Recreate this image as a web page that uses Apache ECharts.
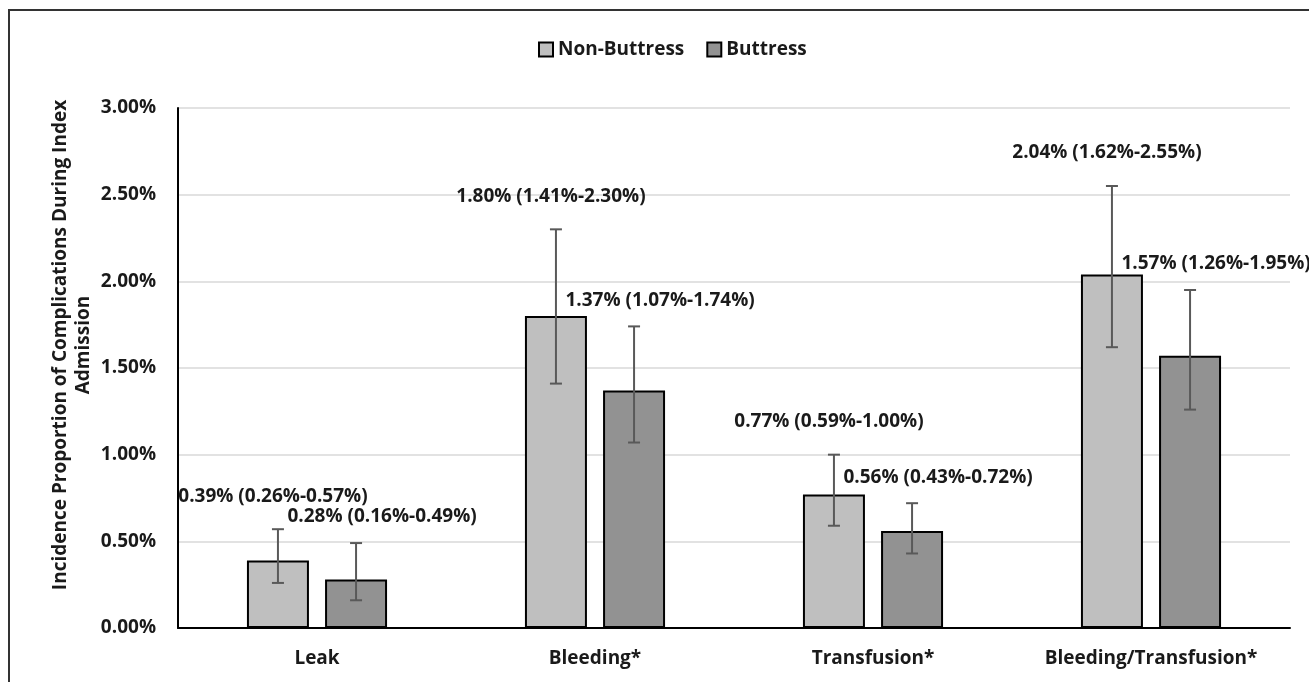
<!DOCTYPE html>
<html>
<head>
<meta charset="utf-8">
<script src="https://cdn.jsdelivr.net/npm/echarts@6/dist/echarts.min.js"></script>
<style>
html,body{margin:0;padding:0;background:#fff;}
#c{width:1309px;height:682px;}
</style>
</head>
<body>
<div id="c"></div>
<script>
const categories = ['Leak', 'Bleeding*', 'Transfusion*', 'Bleeding/Transfusion*'];
const seriesNames = ['Non-Buttress', 'Buttress'];
const nonButtress = [0.39, 1.80, 0.77, 2.04];
const nonButtressLow = [0.26, 1.41, 0.59, 1.62];
const nonButtressHigh = [0.57, 2.30, 1.00, 2.55];
const buttress = [0.28, 1.37, 0.56, 1.57];
const buttressLow = [0.16, 1.07, 0.43, 1.26];
const buttressHigh = [0.49, 1.74, 0.72, 1.95];
const yTicks = [0, 0.5, 1, 1.5, 2, 2.5, 3];

const FONT = '"Open Sans", sans-serif';
const FS = 19;
const BAR_W = 0.223;   // fraction of category band
const BAR_GAP = 0.26;  // fraction of bar width

function fmt(v) { return v.toFixed(2) + '%'; }

function errData(vals, lows, highs) {
  return vals.map((v, i) => [i, lows[i], highs[i], v]);
}

function makeRender(sign, labelDx, labelDy) {
  return function (params, api) {
    const i = api.value(0);
    const lo = api.coord([i, api.value(1)]);
    const hi = api.coord([i, api.value(2)]);
    const band = api.size([1, 0])[0];
    const bw = band * BAR_W;
    const x = lo[0] + sign * bw * (1 + BAR_GAP) / 2;
    const cap = 6;
    const st = { stroke: '#595959', lineWidth: 2 };
    const v = api.value(3);
    const txt = fmt(v) + ' (' + fmt(api.value(1)) + '-' + fmt(api.value(2)) + ')';
    return {
      type: 'group',
      children: [
        { type: 'line', shape: { x1: x, y1: lo[1], x2: x, y2: hi[1] }, style: st },
        { type: 'line', shape: { x1: x - cap, y1: lo[1], x2: x + cap, y2: lo[1] }, style: st },
        { type: 'line', shape: { x1: x - cap, y1: hi[1], x2: x + cap, y2: hi[1] }, style: st },
        { type: 'text', style: { text: txt, x: x + labelDx, y: hi[1] + labelDy, align: 'center', verticalAlign: 'middle',
            font: 'bold ' + FS + 'px ' + FONT, fill: '#1a1a1a' } }
      ]
    };
  };
}

const chart = echarts.init(document.getElementById('c'));
chart.setOption({
  animation: false,
  backgroundColor: '#fff',
  textStyle: { fontFamily: FONT },
  graphic: [
    { type: 'rect', shape: { x: 9, y: 10, width: 1400, height: 800 }, style: { fill: 'none', stroke: '#333', lineWidth: 2 }, z: -1 },
    { type: 'text', x: 72, y: 345, rotation: Math.PI / 2,
      style: { text: 'Incidence Proportion of Complications During Index\nAdmission', align: 'center', verticalAlign: 'middle',
        font: 'bold ' + FS + 'px ' + FONT, fill: '#1a1a1a', lineHeight: 23 } }
  ],
  legend: {
    top: 35, left: 533,
    icon: 'rect',
    itemWidth: 14, itemHeight: 14, itemGap: 22,
    textStyle: { fontSize: FS, fontWeight: 'bold', color: '#1a1a1a', fontFamily: FONT },
    data: seriesNames
  },
  grid: { left: 178, right: 19, top: 108, bottom: 54 },
  xAxis: {
    type: 'category', data: categories,
    axisLine: { lineStyle: { color: '#000', width: 2 } },
    axisTick: { show: false },
    axisLabel: { fontSize: FS, fontWeight: 'bold', color: '#1a1a1a', margin: 21, fontFamily: FONT }
  },
  yAxis: {
    type: 'value', min: 0, max: 3, interval: 0.5,
    axisLine: { show: true, lineStyle: { color: '#000', width: 2 } },
    axisTick: { show: false },
    splitLine: { lineStyle: { color: '#d9d9d9', width: 1.5 } },
    axisLabel: { formatter: v => fmt(v), fontSize: FS, fontWeight: 'bold', color: '#1a1a1a', margin: 22, fontFamily: FONT }
  },
  series: [
    { name: seriesNames[0], type: 'bar', data: nonButtress, barWidth: (BAR_W * 100) + '%', barGap: (BAR_GAP * 100) + '%',
      itemStyle: { color: '#bfbfbf', borderColor: '#000', borderWidth: 2 } },
    { name: seriesNames[1], type: 'bar', data: buttress, barWidth: (BAR_W * 100) + '%', barGap: (BAR_GAP * 100) + '%',
      itemStyle: { color: '#929292', borderColor: '#000', borderWidth: 2 } },
    { type: 'custom', name: 'nbErr', data: errData(nonButtress, nonButtressLow, nonButtressHigh),
      renderItem: makeRender(-1, -5, -33), z: 5, silent: true },
    { type: 'custom', name: 'bErr', data: errData(buttress, buttressLow, buttressHigh),
      renderItem: makeRender(1, 26, -26), z: 5, silent: true }
  ]
});
</script>
</body>
</html>
